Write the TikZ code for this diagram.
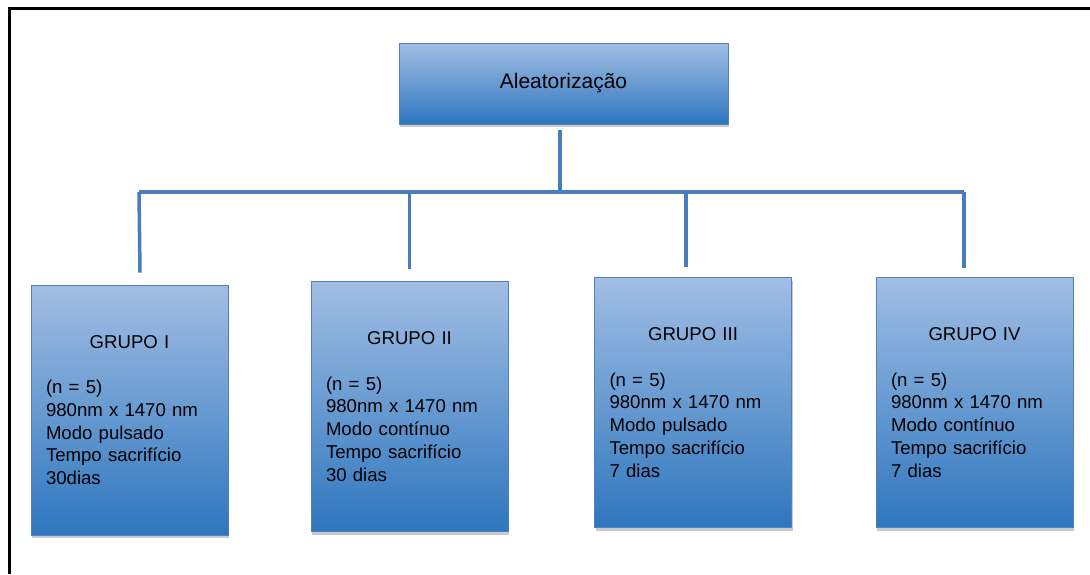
\documentclass[tikz,border=0pt]{standalone}
\usepackage{fontspec}
\setmainfont{Liberation Sans}
\usetikzlibrary{shadows}
\definecolor{boxtop}{RGB}{161,190,228}
\definecolor{boxbottom}{RGB}{46,118,190}
\definecolor{boxedge}{RGB}{79,129,189}
\definecolor{linkblue}{RGB}{72,125,192}
\tikzset{every picture/.style={x=1pt,y=-1pt}}
\tikzstyle{caixa} =
  [ rectangle
  , draw=boxedge
  , line width=0.8pt
  , top color=boxtop
  , bottom color=boxbottom
  , drop shadow={shadow xshift=1pt,shadow yshift=-3pt,fill=black!60,opacity=0.35}
  , font=\fontsize{18.6}{22.7}\selectfont
  ]
\tikzstyle{grupo} =
  [ caixa
  , text width=167pt
  , inner xsep=15pt
  , align=left
  , minimum height=250pt
  ]
\tikzstyle{ligacao} =
  [ draw=linkblue
  , line width=3.5pt
  ]
\def\GrupoTexto#1#2#3{\makebox[167pt]{GRUPO #1}\\[22.7pt](n = 5)\\980nm x 1470 nm\\Modo #2\\Tempo sacrifício\\#3}

\begin{document}
\begin{tikzpicture}
    \useasboundingbox (0,0) rectangle (1090,574);
    \draw[line width=3pt] (9.5,574) -- (9.5,8.5) -- (1090,8.5);

    \node[caixa, minimum width=329pt, minimum height=81pt, font=\fontsize{21}{25}\selectfont] (aleatorizacao) at (563.5, 83.5) {Aleatorização};

    \node[grupo] (grupo1) at (129.5, 410)   {\GrupoTexto{I}{pulsado}{30dias}};
    \node[grupo] (grupo2) at (409.5, 406.5) {\GrupoTexto{II}{contínuo}{30 dias}};
    \node[grupo] (grupo3) at (693,   402.5) {\GrupoTexto{III}{pulsado}{7 dias}};
    \node[grupo] (grupo4) at (974.5, 402.5) {\GrupoTexto{IV}{contínuo}{7 dias}};

    \coordinate (barra_esq) at (139, 192);
    \coordinate (barra_dir) at (964, 192);
    \coordinate (barra_meio) at (560, 192);

    \draw[ligacao] ([xshift=-3.5pt, yshift=-6pt]aleatorizacao.south) -- (barra_meio);
    \draw[ligacao] (barra_esq) -- (barra_dir);
    \draw[ligacao] (barra_esq)           -- ([xshift=10.5pt, yshift=12pt]grupo1.north);
    \draw[ligacao] (grupo2.north |- barra_esq) -- ([yshift=12pt]grupo2.north);
    \draw[ligacao] ([xshift=-7pt]grupo3.north |- barra_esq) -- ([xshift=-7pt, yshift=10pt]grupo3.north);
    \draw[ligacao] (barra_dir)           -- ([xshift=-10.5pt, yshift=9pt]grupo4.north);
\end{tikzpicture}
\end{document}
